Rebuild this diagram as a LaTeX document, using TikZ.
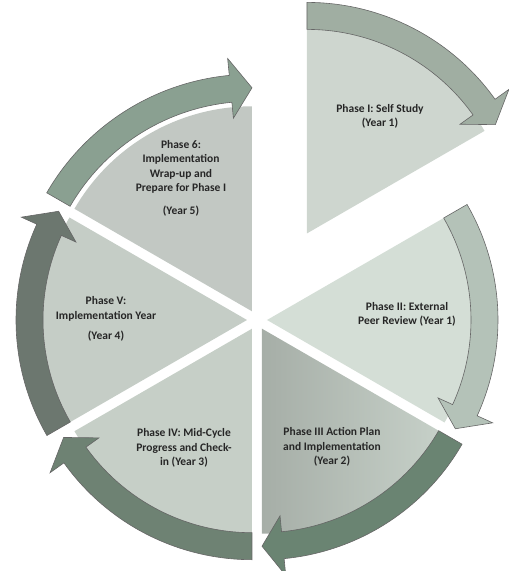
\documentclass[tikz,border=0pt]{standalone}
\usepackage{fontspec}
\setmainfont{Carlito}
\usepackage{tikz}

\definecolor{sliceI}{RGB}{206,214,207}
\definecolor{sliceII}{RGB}{212,222,214}
\definecolor{sliceIIIa}{RGB}{166,174,167}
\definecolor{sliceIIIb}{RGB}{198,208,200}
\definecolor{sliceIV}{RGB}{198,207,199}
\definecolor{sliceV}{RGB}{197,205,198}
\definecolor{sliceVI}{RGB}{194,200,195}
\definecolor{arrowI}{RGB}{160,174,162}
\definecolor{arrowII}{RGB}{180,194,184}
\definecolor{arrowIII}{RGB}{106,132,114}
\definecolor{arrowIV}{RGB}{110,130,115}
\definecolor{arrowV}{RGB}{108,119,111}
\definecolor{arrowVI}{RGB}{138,160,145}

\begin{document}
\begin{tikzpicture}[
  slice/.style={draw=none},
  band/.style={draw=black!60,line width=0.6pt,line join=miter},
  lbl/.style={align=center,text=black!85,font=\bfseries\fontsize{11.5}{14.5}\selectfont}]
\useasboundingbox (-257pt,-251pt) rectangle (252pt,320pt);
% phase I, pulled out
\begin{scope}[shift={(50pt,86.6pt)}]
\fill[slice,fill=sliceI] (0,0) -- (90:205pt) arc[start angle=90,end angle=30,radius=205pt] -- cycle;
\draw[band,fill=arrowI] (90:231pt) arc[start angle=90,end angle=35.5,radius=231pt]
  -- (35.5:248pt) -- (30:217.5pt) -- (35.5:188pt) -- (35.5:204pt)
  arc[start angle=35.5,end angle=90,radius=204pt] -- cycle;
\end{scope}
% phase II
\begin{scope}[shift={(10pt,0pt)}]
\fill[slice,fill=sliceII] (0,0) -- (30:205pt) arc[start angle=30,end angle=-30,radius=205pt] -- cycle;
\draw[band,fill=arrowII] (30:231pt) arc[start angle=30,end angle=-24.5,radius=231pt]
  -- (-24.5:248pt) -- (-30:217.5pt) -- (-24.5:188pt) -- (-24.5:204pt)
  arc[start angle=-24.5,end angle=30,radius=204pt] -- cycle;
\end{scope}
% phase III
\begin{scope}[shift={(5pt,-8.7pt)}]
\shade[slice,left color=sliceIIIa,right color=sliceIIIb] (0,0) -- (270:205pt) arc[start angle=270,end angle=330,radius=205pt] -- cycle;
\draw[band,fill=arrowIII] (330:231pt) arc[start angle=330,end angle=275.5,radius=231pt]
  -- (275.5:248pt) -- (270:217.5pt) -- (275.5:188pt) -- (275.5:204pt)
  arc[start angle=275.5,end angle=330,radius=204pt] -- cycle;
\end{scope}
% phase IV
\begin{scope}[shift={(-5pt,-8.7pt)}]
\fill[slice,fill=sliceIV] (0,0) -- (210:205pt) arc[start angle=210,end angle=270,radius=205pt] -- cycle;
\draw[band,fill=arrowIV] (270:231pt) arc[start angle=270,end angle=215.5,radius=231pt]
  -- (215.5:248pt) -- (210:217.5pt) -- (215.5:188pt) -- (215.5:204pt)
  arc[start angle=215.5,end angle=270,radius=204pt] -- cycle;
\end{scope}
% phase V
\begin{scope}[shift={(-10pt,0pt)}]
\fill[slice,fill=sliceV] (0,0) -- (150:205pt) arc[start angle=150,end angle=210,radius=205pt] -- cycle;
\draw[band,fill=arrowV] (210:231pt) arc[start angle=210,end angle=155.5,radius=231pt]
  -- (155.5:248pt) -- (150:217.5pt) -- (155.5:188pt) -- (155.5:204pt)
  arc[start angle=155.5,end angle=210,radius=204pt] -- cycle;
\end{scope}
% phase 6
\begin{scope}[shift={(-5pt,8.7pt)}]
\fill[slice,fill=sliceVI] (0,0) -- (90:205pt) arc[start angle=90,end angle=150,radius=205pt] -- cycle;
\draw[band,fill=arrowVI] (150:237pt) arc[start angle=150,end angle=95.5,radius=237pt]
  -- (95.5:254pt) -- (90:223.5pt) -- (95.5:194pt) -- (95.5:210pt)
  arc[start angle=95.5,end angle=150,radius=210pt] -- cycle;
\end{scope}
% labels
\node[lbl] (ph1) at (123pt,203.5pt) {Phase I: Self Study\\(Year 1)};
\node[lbl] (ph2) at (150pt,5.5pt) {Phase II: External\\Peer Review (Year 1)};
\node[lbl] (ph3) at (75pt,-127pt) {Phase III Action Plan\\and Implementation\\(Year 2)};
\node[lbl] (ph4) at (-73pt,-128pt) {Phase IV: Mid-Cycle\\Progress and Check-\\in (Year 3)};
\node[lbl] (ph5) at (-151pt,1pt) {Phase V:\\Implementation Year\\[6pt](Year 4)};
\node[lbl] (ph6) at (-76pt,142pt) {Phase 6:\\Implementation\\Wrap-up and\\Prepare for Phase I\\[8pt](Year 5)};
\end{tikzpicture}
\end{document}
